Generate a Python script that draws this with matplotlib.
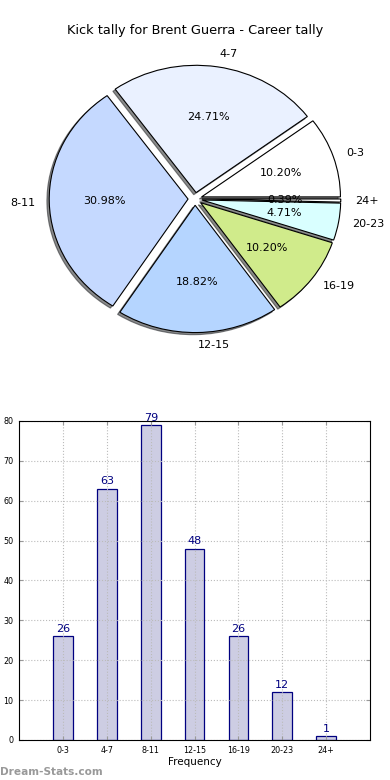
"""Pie and bar view of a kicker's career kick tally."""

import matplotlib

matplotlib.use("Agg")
import matplotlib.pyplot as plt  # noqa: E402
import numpy as np  # noqa: E402

categories = ["0-3", "4-7", "8-11", "12-15", "16-19", "20-23", "24+"]
tally = [26, 63, 79, 48, 26, 12, 1]
slice_colors = ["#ffffff", "#eaf1ff", "#c5d9ff", "#b5d5ff", "#d0eb8b", "#d9ffff", "#ffffff"]
y_ticks = [0, 10, 20, 30, 40, 50, 60, 70, 80]

figure = plt.figure(figsize=(3.9, 7.8), dpi=100)

# pie, left non-square like the old matplotlib output
pie_ax = figure.add_axes([0.055, 0.541, 0.89, 0.408])
pie_ax.pie(
    tally,
    labels=categories,
    colors=slice_colors,
    explode=[0.05] * len(tally),
    autopct="%.2f%%",
    shadow={"ox": -0.012, "oy": -0.012, "shade": 0.9},
    startangle=0,
    wedgeprops={"edgecolor": "black", "linewidth": 0.8},
    textprops={"fontsize": 8},
)
pie_ax.set_aspect("auto")
pie_ax.set_xlim(-1.25, 1.25)
pie_ax.set_ylim(-1.25, 1.25)
pie_ax.set_title("Kick tally for Brent Guerra - Career tally", fontsize=9.3, pad=4.5)

# bars
bar_ax = figure.add_axes([0.049, 0.0513, 0.9, 0.409])
positions = np.arange(len(categories))
bars = bar_ax.bar(positions, tally, width=0.45, color="#cdcde3", edgecolor="#000080", linewidth=0.9, zorder=2)
for rect, value in zip(bars, tally):
    bar_ax.text(
        rect.get_x() + rect.get_width() / 2,
        value + 0.6,
        str(value),
        ha="center",
        va="bottom",
        fontsize=8,
        color="#000080",
    )
bar_ax.set_xlim(-1, 7)
bar_ax.set_ylim(0, 80)
bar_ax.set_xticks(positions)
bar_ax.set_xticklabels(categories, fontsize=5.8)
bar_ax.set_yticks(y_ticks)
bar_ax.set_yticklabels([str(t) for t in y_ticks], fontsize=5.8)
bar_ax.tick_params(direction="in", length=3, color="#999999", top=True, right=True, pad=4)
bar_ax.grid(True, linestyle=":", color="#bbbbbb", linewidth=0.8, zorder=3)
bar_ax.set_axisbelow(False)
bar_ax.set_xlabel("Frequency", fontsize=7.5, labelpad=2)
for spine in bar_ax.spines.values():
    spine.set_linewidth(0.8)
    spine.set_zorder(4)

figure.text(0.0, 0.004, "Dream-Stats.com", fontsize=7.6, color="#999999", fontweight="bold", ha="left", va="bottom")

figure.savefig("out.png", dpi=100)
plt.close(figure)
